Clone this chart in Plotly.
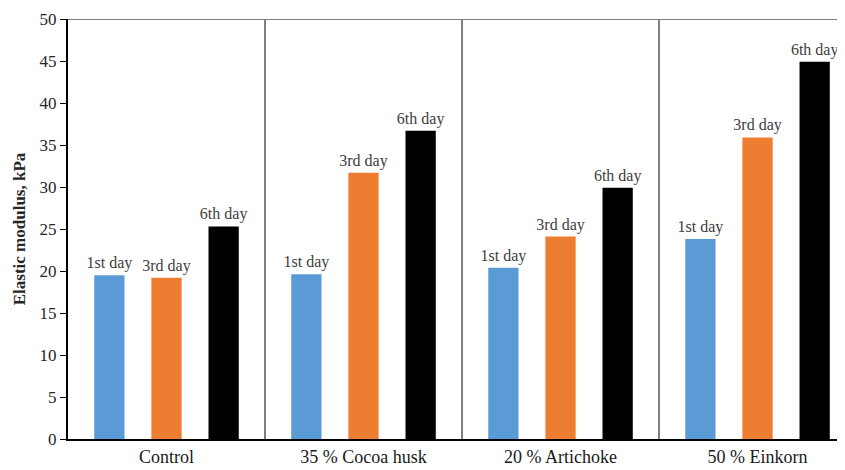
import plotly.graph_objects as go

categories = ["Control", "35 % Cocoa husk", "20 % Artichoke", "50 % Einkorn"]
series_names = ["1st day", "3rd day", "6th day"]
day1 = [19.5, 19.6, 20.4, 23.8]
day3 = [19.2, 31.7, 24.1, 35.9]
day6 = [25.3, 36.7, 29.9, 44.9]
colors = ["#5B9BD5", "#ED7D31", "#000000"]
y_ticks = [0, 5, 10, 15, 20, 25, 30, 35, 40, 45, 50]

FONT = "Liberation Serif"

fig = go.Figure()
for name, vals, col in zip(series_names, [day1, day3, day6], colors):
    fig.add_trace(go.Bar(
        x=categories, y=vals, name=name,
        marker=dict(color=col, line=dict(width=0)),
        text=[name] * len(vals), textposition="outside",
        textfont=dict(family=FONT, size=16, color="#404040"),
        constraintext="none",
        cliponaxis=False,
    ))

# group separators
for b in [0.5, 1.5, 2.5]:
    fig.add_shape(type="line", xref="x", yref="y", x0=b, x1=b, y0=0, y1=50,
                  line=dict(color="#7F7F7F", width=2))
# top border
fig.add_shape(type="line", xref="paper", yref="y", x0=0, x1=1, y0=50, y1=50,
              line=dict(color="#7F7F7F", width=2))

fig.update_layout(
    width=837, height=462,
    margin=dict(l=60, r=0, t=11, b=31),
    plot_bgcolor="white", paper_bgcolor="white",
    barmode="group", bargap=0.13, bargroupgap=0.47,
    showlegend=False,
    font=dict(family=FONT, color="#262626"),
)
fig.update_xaxes(
    range=[-0.5, 3.444], showline=True, linecolor="black", linewidth=2,
    ticks="", tickfont=dict(family=FONT, size=18, color="#1a1a1a"),
    showgrid=False, automargin=False,
)
fig.update_yaxes(
    range=[0, 50], tickvals=y_ticks, showline=True, linecolor="black", linewidth=2,
    ticks="outside", ticklen=6, tickcolor="black", tickwidth=1,
    tickfont=dict(family=FONT, size=17, color="#262626"),
    showgrid=False, zeroline=False, automargin=False,
    title=dict(text="<b>Elastic modulus, kPa</b>", font=dict(family=FONT, size=17, color="#262626"), standoff=10),
)

fig.write_html("out.html")
